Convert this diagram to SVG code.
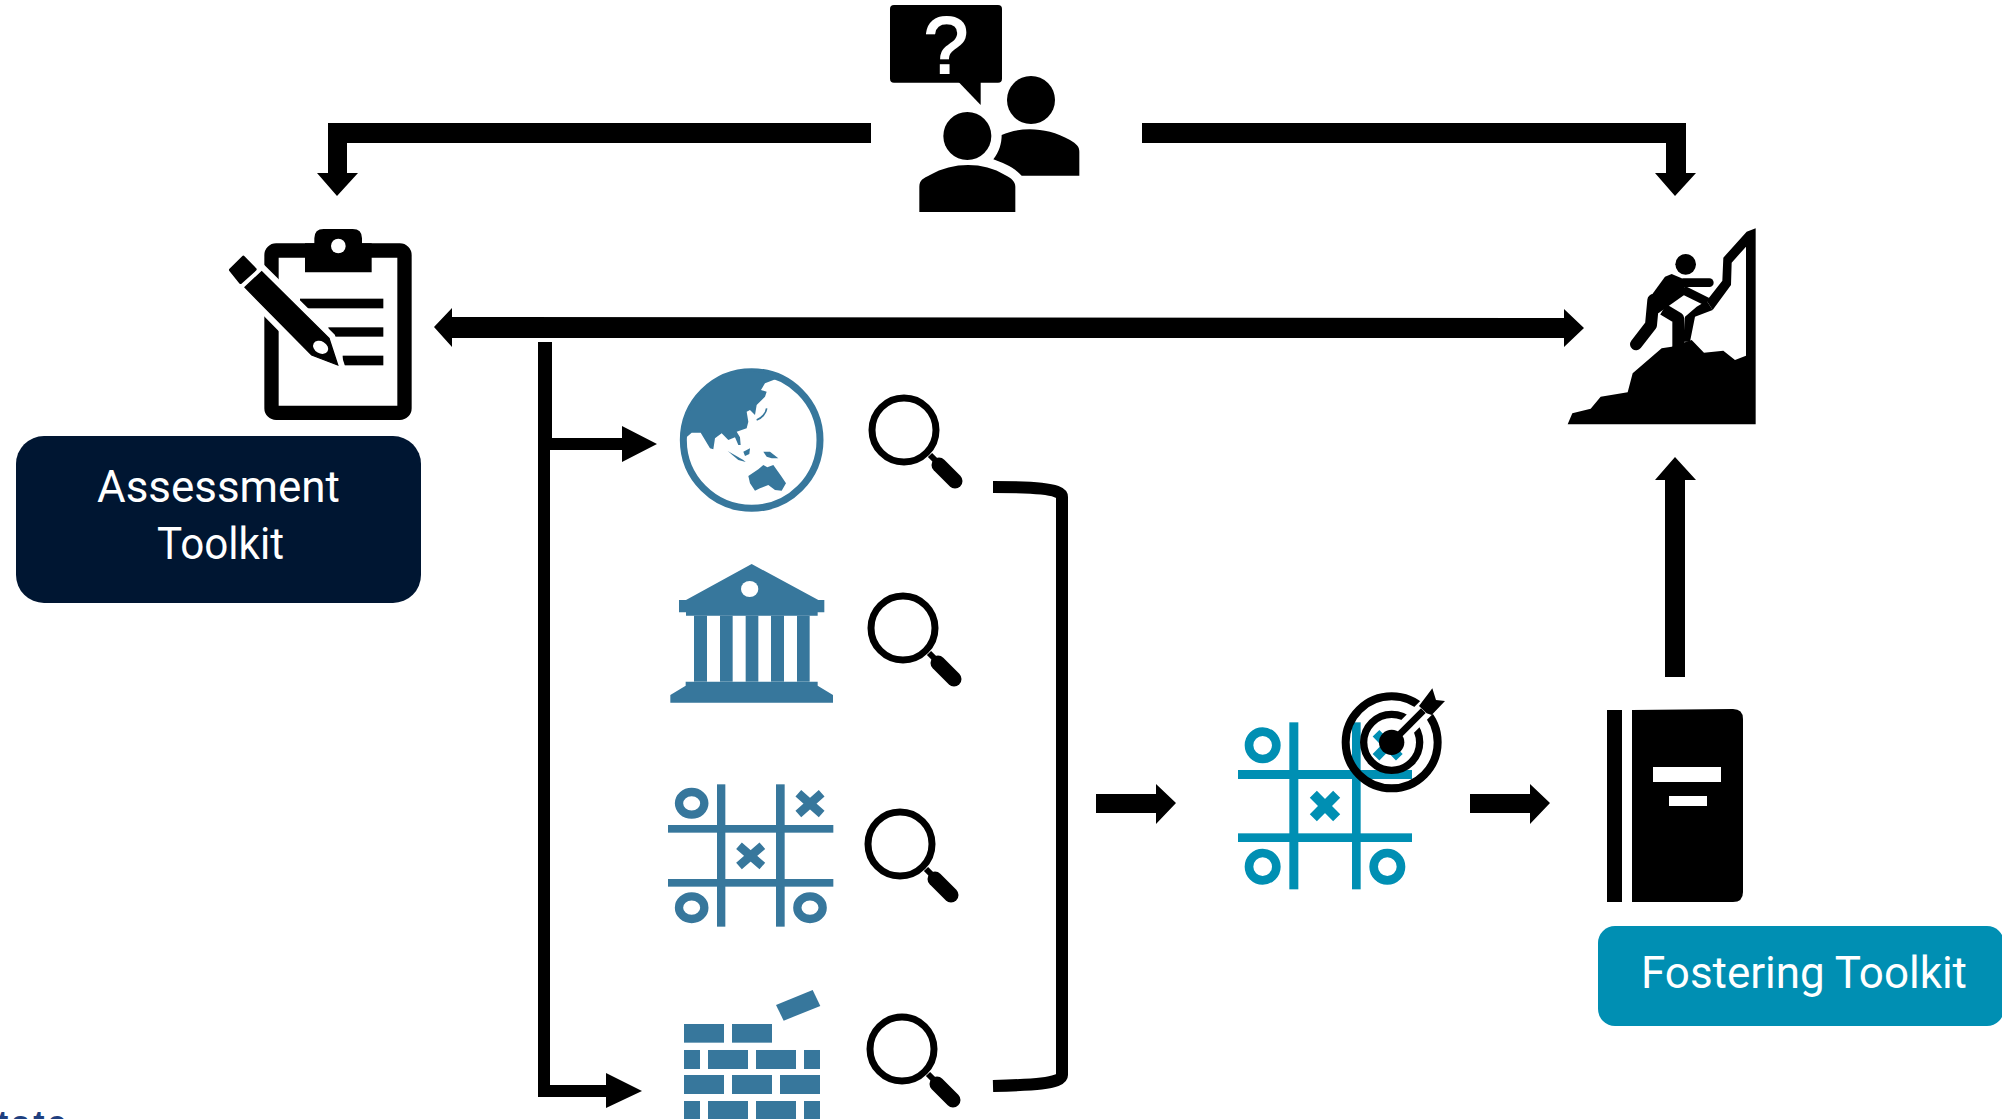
<svg xmlns="http://www.w3.org/2000/svg" xmlns:xlink="http://www.w3.org/1999/xlink" width="2002" height="1119" viewBox="0 0 2002 1119">
<style>
.k{fill:#000}
.b{fill:#37779c}
.t{fill:#008fb3}
.w{fill:#fff}
.lbl{font-family:"Roboto","Liberation Sans",sans-serif;font-weight:400;font-size:45px;fill:#fff}
.ring{fill:none;stroke:#000}
.bs{stroke:#37779c;fill:none}
.ts{stroke:#008fb3;fill:none}
</style>
<defs>
<g id="mag">
<circle cx="0" cy="0" r="32" fill="none" stroke="#000" stroke-width="7"/>
<path d="M26,25L36,35" stroke="#000" stroke-width="6" fill="none"/>
<path d="M35,35L51,51" stroke="#000" stroke-width="15" stroke-linecap="round" fill="none"/>
</g>
</defs>
<rect width="2002" height="1119" fill="#fff"/>

<g id="connectors" class="k">
<polygon points="871,123 328,123 328,173 317,173 337,196 358,173 347,173 347,143 871,143"/>
<polygon points="1142,123 1686,123 1686,173 1696,173 1675,196 1655,173 1666,173 1666,143 1142,143"/>
<polygon points="434,327 452,308 452,317 1564,318 1564,309 1584,328 1564,347 1564,338 452,338 452,347"/>
<polygon points="538,342 552,342 552,438 622,438 622,426 657,444 622,462 622,450 550,450 550,1085 606,1085 606,1073 642,1091 606,1108 606,1097 538,1097"/>
<path d="M993,487C1030,487 1062,488 1062,497L1062,1075C1062,1084 1030,1085 993,1086" fill="none" stroke="#000" stroke-width="12"/>
<polygon points="1096,794 1156,794 1156,784 1176,803 1156,824 1156,813 1096,813"/>
<polygon points="1470,794 1530,794 1530,784 1550,803 1530,824 1530,813 1470,813"/>
<polygon points="1665,677 1665,480 1655,480 1675,457 1696,480 1685,480 1685,677"/>
</g>

<g id="node-people" transform="translate(880,0) scale(.33333)" class="k">
<rect x="30" y="15" width="336" height="233" rx="12"/>
<polygon points="235,245 302,315 302,245"/>
<circle cx="453" cy="300" r="72"/>
<path d="M365,405C420,380 500,380 570,420C590,432 598,440 598,455L598,527L425,527C400,500 370,490 340,478C358,455 365,430 365,405Z"/>
<circle cx="262" cy="408" r="72"/>
<path d="M118,560C118,540 130,535 150,525C220,485 310,485 375,525C395,535 406,545 406,560L406,636L118,636Z"/>
</g>
<text id="label-question" x="946" y="73" font-family="Liberation Sans,sans-serif" font-size="80" text-anchor="middle" fill="#fff" stroke="#fff" stroke-width="2">?</text>

<g id="node-clipboard" transform="translate(200,210) scale(.33333)" class="k">
<rect x="214.500" y="121.500" width="399" height="487" rx="14" fill="none" stroke="#000" stroke-width="43"/>
<path d="M315,100H343V85Q343,57 371,57H458Q486,57 486,85V100H515V187H315Z"/>
<circle cx="415" cy="108" r="22" class="w"/>
<rect x="300" y="266" width="250" height="29"/>
<rect x="385" y="352" width="165" height="28"/>
<rect x="428" y="437" width="122" height="29"/>
<polygon points="185,185 135,232 335,435 413,465 387,385" fill="#fff" stroke="#fff" stroke-width="40"/>
<polygon points="185,185 135,232 335,435 413,465 387,385" stroke="#000" stroke-width="4"/>
<ellipse cx="362" cy="412" rx="24" ry="18" transform="rotate(30 362 412)" class="w"/>
<polygon points="130,142 165,178 122,217 92,180" stroke="#000" stroke-width="10" stroke-linejoin="round"/>
</g>

<g id="node-assessment">
<rect x="16" y="436" width="405" height="167" rx="28" fill="#001632"/>
<text class="lbl" x="97" y="502" textLength="243" lengthAdjust="spacingAndGlyphs">Assessment</text>
<text class="lbl" x="157" y="559" textLength="127" lengthAdjust="spacingAndGlyphs">Toolkit</text>
</g>

<g id="node-climber" transform="translate(1550,210) scale(.33333)" class="k">
<polygon points="53,643 67,610 122,596 152,560 233,547 248,490 335,415 365,410 425,390 462,428 520,422 555,450 588,437 588,110 545,158 543,225 488,300 470,272 517,212 520,143 590,65 617,55 617,643"/>
<polygon points="488,300 435,320 420,395 400,395 403,345 405,320 440,290 470,272"/>
<circle cx="407" cy="163" r="31"/>
<polygon points="345,200 298,265 325,310 410,250 395,205 365,192"/>
<path d="M400,218H478" fill="none" stroke="#000" stroke-width="26" stroke-linecap="round"/>
<path d="M400,240L472,276" fill="none" stroke="#000" stroke-width="26"/>
<path d="M310,270L303,345L258,403" fill="none" stroke="#000" stroke-width="36" stroke-linecap="round" stroke-linejoin="round"/>
<path d="M340,298L385,325L385,415" fill="none" stroke="#000" stroke-width="36" stroke-linejoin="round"/>
</g>

<g id="node-globe" transform="translate(660,350) scale(.33333)">
<circle cx="275" cy="270" r="205" fill="none" stroke="#37779c" stroke-width="21"/>
<path class="b" d="M70,270L95,248L122,248L150,295L160,298L165,265L185,250L205,270L225,262L235,285L242,285L240,262L230,245L260,235L265,215L260,185L270,180L285,195L290,165L315,140L320,125L303,120L315,100L358,83A205,205 0 0 0 70,270Z"/>
<path class="bs" d="M320,175C318,190 305,205 290,210" stroke-width="5"/>
<path class="b" d="M203,303L250,330L257,336L235,330Z"/>
<path class="b" d="M250,305L270,295L268,312L255,318Z"/>
<path class="b" d="M310,305L330,305L355,325L335,325L320,320Z"/>
<path class="b" d="M265,378L295,358L310,345L322,352L340,345L365,380L378,400L365,422L345,420L325,405L300,415L285,422L270,400Z"/>
</g>

<g id="node-bank" transform="translate(660,350) scale(.33333)" class="b">
<path d="M275,642L475,750H493V787H473V797H78V787H57V750H78Z"/>
<ellipse cx="269" cy="717" rx="26" ry="24" class="w"/>
<rect x="102" y="797" width="39" height="198"/>
<rect x="180" y="797" width="38" height="198"/>
<rect x="257" y="797" width="38" height="198"/>
<rect x="333" y="797" width="39" height="198"/>
<rect x="411" y="797" width="38" height="198"/>
<path d="M77,995H473V1007L519,1035V1058H31V1035L77,1007Z"/>
</g>

<g id="node-game" transform="translate(650,770) scale(.33333)">
<g class="b">
<rect x="201" y="43" width="25" height="427"/>
<rect x="378" y="43" width="26" height="427"/>
<rect x="54" y="165" width="496" height="23"/>
<rect x="54" y="327" width="496" height="23"/>
</g>
<ellipse class="bs" cx="125" cy="100" rx="38" ry="34" stroke-width="25"/>
<ellipse class="bs" cx="125" cy="413" rx="38" ry="34" stroke-width="25"/>
<ellipse class="bs" cx="480" cy="413" rx="38" ry="34" stroke-width="25"/>
<path class="bs" d="M445,70L515,132M515,70L445,132" stroke-width="26"/>
<path class="bs" d="M267,227L337,288M337,227L267,288" stroke-width="26"/>
</g>

<g id="node-bricks" transform="translate(650,770) scale(.33333)" class="b">
<polygon points="378,705 488,660 511,708 401,752"/>
<rect x="102" y="762" width="120" height="56"/><rect x="246" y="762" width="120" height="56"/>
<rect x="102" y="840" width="48" height="57"/><rect x="174" y="840" width="120" height="57"/><rect x="318" y="840" width="120" height="57"/><rect x="462" y="840" width="48" height="57"/>
<rect x="102" y="915" width="120" height="57"/><rect x="246" y="915" width="120" height="57"/><rect x="390" y="915" width="120" height="57"/>
<rect x="102" y="993" width="48" height="54"/><rect x="174" y="993" width="120" height="54"/><rect x="318" y="993" width="120" height="54"/><rect x="462" y="993" width="48" height="54"/>
</g>

<g id="node-magnifiers">
<use xlink:href="#mag" href="#mag" x="904" y="430"/>
<use xlink:href="#mag" href="#mag" x="903" y="628"/>
<use xlink:href="#mag" href="#mag" x="900" y="844"/>
<use xlink:href="#mag" href="#mag" x="902" y="1049"/>
</g>

<g id="node-target" transform="translate(1220,670) scale(.33333)">
<g class="t">
<rect x="208" y="157" width="27" height="501"/>
<rect x="396" y="157" width="26" height="501"/>
<rect x="54" y="300" width="522" height="27"/>
<rect x="54" y="490" width="522" height="26"/>
</g>
<circle class="ts" cx="128" cy="226" r="41" stroke-width="26"/>
<circle class="ts" cx="128" cy="590" r="41" stroke-width="26"/>
<circle class="ts" cx="502" cy="590" r="41" stroke-width="26"/>
<path class="ts" d="M280,373L350,443M350,373L280,443" stroke-width="30"/>
<path class="ts" d="M468,190L538,262M538,190L468,262" stroke-width="28"/>
<circle class="ring" cx="515" cy="217" r="138" stroke-width="24"/>
<circle class="ring" cx="515" cy="217" r="84" stroke-width="22"/>
<path d="M515,217L640,92" stroke="#fff" stroke-width="54" fill="none"/>
<circle cx="515" cy="217" r="38" class="k"/>
<path d="M515,217L610,122" stroke="#000" stroke-width="20" fill="none"/>
<polygon class="k" points="637,55 648,90 675,93 635,135 620,130 597,108"/>
</g>

<g id="node-book" class="k">
<rect x="1607" y="710" width="15" height="192"/>
<path d="M1632,710L1733,709Q1743,709 1743,719V892Q1743,902 1733,902H1632Z"/>
<rect class="w" x="1653" y="767" width="68" height="15"/>
<rect class="w" x="1669" y="796" width="38" height="10"/>
</g>

<g id="node-fostering">
<rect x="1598" y="926" width="406" height="100" rx="17" fill="#008fb3"/>
<text class="lbl" x="1641" y="988" textLength="326" lengthAdjust="spacingAndGlyphs">Fostering Toolkit</text>
</g>

<text id="label-cut" x="-3" y="1134" font-family="Liberation Sans,sans-serif" font-weight="700" font-size="34" letter-spacing="3" fill="#1f3f7f">tate</text>
</svg>
